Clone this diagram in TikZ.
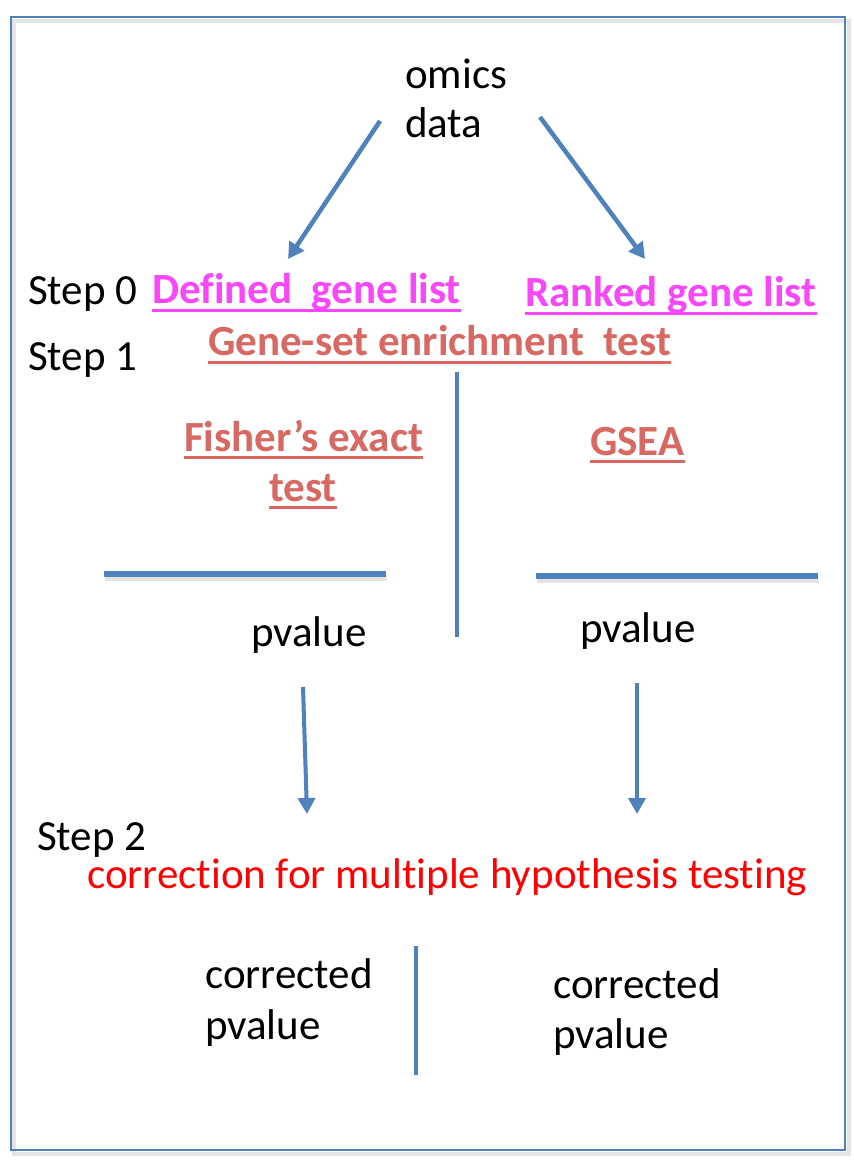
\documentclass[tikz,border=0pt]{standalone}
\usepackage{fontspec}
\setmainfont{Carlito}[Ligatures={NoCommon}]
\usetikzlibrary{arrows.meta}
\definecolor{frameblue}{RGB}{79,129,189}
\definecolor{mag}{RGB}{250,70,250}
\definecolor{salmon}{RGB}{217,104,98}
\definecolor{shadecol}{RGB}{228,228,228}
\tikzset{
  x=1pt, y=-1pt,
  txt/.style={anchor=base west, inner sep=0pt, font=\fontsize{43}{52}\selectfont},
  blk/.style={txt, text=black},
  magt/.style={txt, text=mag, font=\fontsize{43}{52}\selectfont\bfseries},
  salt/.style={txt, text=salmon, font=\fontsize{43}{52}\selectfont\bfseries},
  redt/.style={txt, text=red},
  uline/.style={line width=3pt},
  bar/.style={draw=frameblue, line width=5.5pt},
  vbar/.style={draw=frameblue, line width=4pt},
  shadowline/.style={draw=shadecol, line width=5pt},
  arr/.style={draw=frameblue, line width=4.5pt, -{Triangle[length=16pt,width=17pt]}},
}
\begin{document}
\begin{tikzpicture}
\useasboundingbox (0,0) rectangle (854,1162);
\fill[white] (0,0) rectangle (854,1162);
% frame with shadow
\draw[shadecol, line width=4pt] (14,21) rectangle (849,1154);
\draw[frameblue, line width=2.5pt] (11,17) rectangle (845,1150);

% texts
\node[blk] (omics) at (405,88) {omics};
\node[blk] (data) at (405,137) {data};
\node[blk] (step0) at (28,304) {Step 0};
\node[magt] (defined) at (152,303) {Defined\ \ gene list};
\node[magt] (ranked) at (525,306) {Ranked gene list};
\node[blk] (step1) at (28,370) {Step 1};
\node[salt] (gset) at (208,355) {Gene-set enrichment\ \ test};
\node[salt] (fisher) at (184,451) {Fisher’s exact};
\node[salt] (ftest) at (269,501) {test};
\node[salt] (gsea) at (590,455) {GSEA};
\node[blk] (pvl) at (251,646) {pvalue};
\node[blk] (pvr) at (580,642) {pvalue};
\node[blk] (step2) at (37,850) {Step 2};
\node[redt] (corr) at (87,888) {correction for multiple hypothesis testing};
\node[blk] (cl1) at (205,988) {corrected};
\node[blk] (cl2) at (205,1039) {pvalue};
\node[blk] (cr1) at (553,998) {corrected};
\node[blk] (cr2) at (553,1048) {pvalue};

% underlines
\foreach \n/\c/\d in {defined/mag/7, ranked/mag/7, gset/salmon/7, fisher/salmon/6, ftest/salmon/6, gsea/salmon/6}{
  \draw[uline, \c] ([yshift=-\d pt]\n.base west) -- ([yshift=-\d pt]\n.base east);
}

% arrows from omics data
\coordinate (a1s) at (380,121);
\coordinate (a1e) at (288,259);
\coordinate (a2s) at (540,117);
\coordinate (a2e) at (645,259);
\draw[arr] (a1s) -- (a1e);
\draw[arr] (a2s) -- (a2e);

% vertical divider step 1
\coordinate (v1t) at (457,372);
\coordinate (v1b) at (457,637);
\draw[vbar] (v1t) -- (v1b);

% horizontal bars
\coordinate (h1l) at (104,574);
\coordinate (h1r) at (386,574);
\coordinate (h2l) at (536,576);
\coordinate (h2r) at (818,576);
\draw[shadowline] ([shift={(1,4)}]h1l) -- ([shift={(1,4)}]h1r);
\draw[shadowline] ([shift={(1,4)}]h2l) -- ([shift={(1,4)}]h2r);
\draw[bar] (h1l) -- (h1r);
\draw[bar] (h2l) -- (h2r);

% arrows from pvalue down
\coordinate (p1s) at (303,687);
\coordinate (p1e) at (307,814);
\coordinate (p2s) at (637,683);
\coordinate (p2e) at (637,814);
\draw[arr, line width=4pt] (p1s) -- (p1e);
\draw[arr, line width=4pt] (p2s) -- (p2e);

% vertical divider step 2
\coordinate (v2t) at (416,946);
\coordinate (v2b) at (416,1075);
\draw[vbar, line width=3.5pt] (v2t) -- (v2b);
\end{tikzpicture}
\end{document}
